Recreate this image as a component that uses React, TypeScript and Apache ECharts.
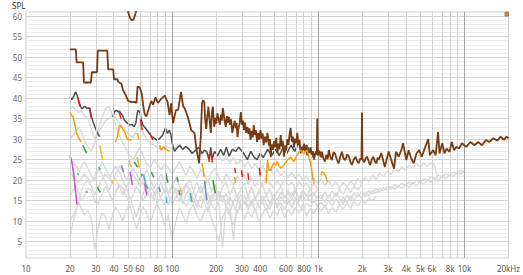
import React, { useEffect, useRef } from 'react';
import * as echarts from 'echarts';

const FONT = '"Noto Sans", "DejaVu Sans", sans-serif';

// ---- axis ticks ----
const xTickFreqs = [10, 20, 30, 40, 50, 60, 80, 100, 200, 300, 400, 600, 800, 1000, 2000, 3000, 4000, 5000, 6000, 8000, 10000, 20000];
const xTickLabels = ['10', '20', '30', '40', '50', '60', '80', '100', '200', '300', '400', '600', '800', '1k', '2k', '3k', '4k', '5k', '6k', '8k', '10k', '20kHz'];
const vGridFreqs = [20, 30, 40, 50, 60, 70, 80, 90, 100, 200, 300, 400, 500, 600, 700, 800, 900, 1000, 2000, 3000, 4000, 5000, 6000, 7000, 8000, 9000, 10000];
const decadeFreqs = [100, 1000, 10000];
const yMin = 1;
const yMax = 61;
const xMinFreq = 10;
const xMaxFreq = 20000;

// ---- brown (main) ----
const brownPts: [number, number][] = [
  [20, 51.9], [21.9, 51.9], [22.2, 48.7], [24.6, 48.7], [24.9, 43.8], [27.8, 43.8], [28.2, 46.3], [30.6, 46.3], [31, 51.6], [36, 51.6],
  [36.5, 47], [39.5, 47], [40, 44.6], [42.3, 44.6], [42.6, 44], [45, 43.5], [46, 42], [48.5, 40.5], [50, 39.3], [53, 39],
  [55.5, 39.1], [57, 38.8], [58, 42.8], [60, 42.6], [62, 41.1], [63.5, 38], [65, 36], [66.5, 35.5], [68, 36.5], [70, 38],
  [72, 39.3], [74, 38.4], [77, 40.2], [80, 38.8], [84, 39.8], [89, 40.6], [93, 39], [96, 35.9], [98.5, 38.7], [100, 36],
  [101.5, 33.9], [103, 35], [106, 37], [110, 37.2], [115, 41.5], [119, 38], [122, 37.5], [128, 35.4], [135, 32.2], [142, 31.5],
  [147, 27.3], [153, 24.1], [157, 30.5], [160, 38.7], [163, 39.5], [166, 39], [168, 35], [171, 32.5], [174, 35.5], [177, 37.9],
  [180, 35], [184, 31.5], [187, 36.5], [190, 37.9], [194, 33], [198, 35.2], [201, 33.8], [204, 36.3], [208, 35], [212, 33.5],
  [216, 36], [219, 34.5], [222, 37.6], [226, 35.8], [229, 34.2], [233, 33], [237, 35.6], [241, 34], [245, 35.4], [249, 33.5],
  [253, 34.8], [258, 31.5], [263, 33.2], [268, 34.5], [273, 32.6], [276, 33.9], [280, 30.5], [285, 32.8], [290, 34], [295, 36.6],
  [300, 33.5], [305, 34.6], [310, 32.2], [315, 34], [321, 31.5], [327, 33], [333, 31.2], [338, 32.6], [344, 29.8], [350, 32],
  [356, 30.4], [362, 33.4], [368, 31], [374, 32.2], [381, 29.3], [388, 31.5], [395, 29.9], [402, 32.2], [409, 30.1], [416, 31.4],
  [423, 28.5], [431, 30.6], [440, 29.2], [449, 31.5], [460, 28.4], [467, 30], [473, 25.6], [480, 28.7], [489, 27.4], [498, 29.5],
  [508, 28], [516, 30.3], [525, 26.6], [534, 28.9], [543, 27.5], [553, 31], [562, 28.2], [572, 29.6], [582, 25.7], [592, 28.4],
  [603, 27.2], [614, 30], [625, 28.6], [636, 31.2], [647, 32.7], [659, 29.4], [670, 30.6], [682, 28], [694, 30.1], [706, 29],
  [718, 31.5], [731, 28.6], [744, 29.8], [757, 26.5], [770, 28.1], [784, 27.3], [798, 28.9], [812, 27], [826, 28.2], [840, 26],
  [856, 27.6], [871, 26.6], [886, 28], [902, 26.2], [918, 27.1], [934, 25], [950, 26.4], [966, 27], [975, 26.2], [984, 35],
  [992, 26.4], [1000, 26], [1020, 27.2], [1040, 25.6], [1060, 26.9], [1085, 25.3], [1110, 24.5], [1135, 26.2], [1160, 25.1], [1180, 27.3],
  [1210, 25.6], [1240, 24.9], [1270, 26.8], [1300, 26.5], [1340, 25], [1380, 24.1], [1415, 25.8], [1450, 26.9], [1490, 25.2], [1530, 24.9],
  [1575, 26.3], [1620, 25.7], [1660, 24.4], [1700, 23.7], [1750, 25.1], [1800, 25.7], [1845, 24.6], [1890, 24.1], [1940, 25.3], [1975, 25],
  [1990, 36.5], [2005, 25.2], [2060, 24.3], [2110, 25.4], [2160, 25.7], [2210, 24.6], [2260, 23.7], [2320, 25], [2380, 25.7], [2440, 24.5],
  [2500, 24.1], [2550, 25.5], [2590, 24.9], [2700, 26.6], [2850, 23.2], [3030, 27], [3150, 25], [3300, 22.8], [3400, 26.9], [3550, 25.7],
  [3700, 27.3], [3800, 29], [4000, 24.9], [4150, 27.3], [4300, 25.5], [4500, 24.1], [4700, 26.5], [4900, 27.3], [5100, 25.7], [5400, 28.1],
  [5650, 30], [5800, 26.1], [6100, 27.3], [6350, 26.1], [6600, 31.7], [6750, 26.5], [7050, 29], [7300, 26.5], [7550, 27.7], [7900, 26.9],
  [8200, 29.3], [8500, 27.3], [8800, 28.1], [9200, 27.7], [9600, 29], [10300, 28.1], [11000, 29.3], [11700, 28.5], [12400, 29.3], [13200, 28.5],
  [14000, 29.8], [14800, 29.3], [15800, 30.2], [16800, 29.6], [17700, 30.6], [18600, 29.8], [19400, 30.6], [20000, 30.2],
];

// ---- brown (high, mostly above the plot) ----
const brownHighPts: [number, number][] = [
  [47, 66], [49, 63.5], [50, 61], [51.5, 59.5], [53, 59], [54.5, 59.2], [56, 60.5], [57, 61.5], [58, 64], [60, 67],
];
const brownEndMarker: [number, number][] = [[19500, 60.5]];

// ---- dark gray ----
const darkPts: [number, number | null][] = [
  [20, 40.3], [20.6, 39.6], [21.2, 40.5], [21.9, 41.5], [22.4, 40.6], [23, 39.2], [23.6, 38], [24.2, 37.4], [25.2, 38], [26.2, 37.5],
  [27.3, 37.6], [27.8, 36], [28.6, 34.5], [29.6, 33], [30.8, 31.5], [31.9, 30.6], [33, null], [39.2, 35.4], [40.5, 36.8], [41.7, 37],
  [42.8, 36.6], [43.6, 36.8], [44.5, 36.3], [45.7, 35.8], [47.2, 34.6], [49.5, 33.9], [51.5, 33.4], [53, 33.6], [55, 33], [56.5, 34],
  [57.5, 36], [58.3, 37], [59.3, 36.8], [60.5, 36.3], [61.5, 34.6], [62.9, 33.5], [64.5, 33], [66.5, 32.4], [68.5, 31.8], [70.5, 31.2],
  [72, 30.6], [74.5, 30.4], [77.8, 29.8], [81.5, 30], [86.2, 31], [90, 32.7], [93, 31.4], [95.7, 32.2], [98.2, 31], [100, 29],
  [104, 27], [108, 27.8], [113, 28.5], [118, 27.5], [124, 28.2], [130, 27.6], [137, 26.5], [145, 27.3], [152, 28], [160, 26.5],
  [166, 27.3], [172, 27], [176, 26], [179, 25], [184, 28], [187, 25], [195, 27], [205, 26], [215, 27.5], [225, 26],
  [235, 28], [245, 25.8], [258, 27.5], [272, 27], [285, 28], [302, 27], [315, 26], [327, 25], [345, 27], [365, 25.5],
  [381, 25], [400, 26.5], [420, 25.5], [450, 27.5], [480, 26], [510, 27.5], [540, 26], [575, 28], [610, 26.5], [650, 28.5],
  [690, 27], [730, 29], [780, 27], [830, 28.5], [880, 27], [930, 25.5], [980, 27], [1020, 26.5], [1060, 25.5],
];

// ---- orange ----
const orangePts: [number, number | null][] = [
  [20, 36.5], [20.5, 35.8], [21, 35.4], [21.6, 33.5], [22.2, 31.4], [22.8, 30.5], [23.3, 29.8], [24, 29.3], [24.6, null],
  [41, 29.3], [42.5, 30.8], [43.6, 33.4], [45.2, 32.8], [46.5, 32.2], [47.5, 31.6], [48.6, 30.5], [50, 29.8], [51, 29.9], [52.5, 29.6], [53.5, null],
  [57.5, 31.5], [58.3, 31], [59, 29.8], [59.8, null],
  [82, 28.5], [84, 27.3], [87, 28.1], [91, 27.5], [96, 27], [97, null],
  [160, 24.1], [163, 22.6], [166, 20.8], [168, null],
  [268, 20.8], [272, 19.2], [275, null],
  [395, 22], [400, 20.8], [405, null],
  [440, 19.2], [449, 24.9], [461, 22.4], [473, 22.4], [485, 23.5], [498, 24.1], [511, 23.6], [525, 24.5], [539, 23.6], [553, 22.9],
  [567, 23.2], [582, 23.7], [598, 24.3], [614, 24.9], [630, 25.2], [647, 25.7], [664, 25], [682, 24.5], [700, 25.5], [718, 26.1],
  [737, 26.8], [757, 27.3], [777, 26.8], [798, 26.5], [819, 27], [840, 27.3], [862, 25.6], [886, 24.1], [910, 21.5], [934, 19.2], [960, null],
  [1040, 21.2], [1060, 22], [1080, 22], [1100, 21.5], [1120, 21.2], [1140, 20.2], [1160, 19.6],
];

// ---- red ----
const redPts: [number, number | null][] = [
  [22.6, 40.2], [23, 39], [23.4, 38], [23.8, null], [27.2, 37.4], [27.6, 36.2], [28, 35.2], [28.4, null],
  [43.4, 36.8], [44, 35.8], [44.6, 35], [45, null], [60.5, 34.8], [61.5, 33.4], [62.5, 32.2], [63, null],
  [70, 31.5], [72, 30.6], [74, 29.8], [75, null], [176, 26.3], [178, 25], [180, 24.4], [181, null],
  [185, 27.2], [187, 25], [189, 24.3], [190, null], [268, 23], [272, 21.7], [276, null],
  [298, 22.4], [302, 20.8], [306, null], [330, 21.7], [334, 20], [338, null], [396, 23], [400, 21.2],
];

// ---- small coloured fragments ----
const magentaPts: [number, number | null][] = [
  [20, 26], [20.6, 24.5], [21.2, 21.5], [21.8, 17.5], [22.3, 14], [23, null],
  [51.5, 22], [52.5, 20.5], [53.5, 18.8], [55, null], [65, 19.2], [66, 17.6], [67, 16.3],
];
const greenPts: [number, number | null][] = [
  [24.5, 28.5], [25.2, 27.6], [26, 26.6], [27, null], [30.8, 18.3], [31.5, 17.6], [32.3, 17], [33, null],
  [55, 24.4], [56.5, 23.8], [58, 23.2], [59, null], [72, 22], [73.5, 21.2], [75, 20.7], [76, null],
  [90.5, 21.7], [92, 20.4], [93.5, 19.3], [95, null], [108, 20.8], [110, 19.6], [112, null], [190, 20], [194, 18.2], [198, 16.8],
];
const cyanPts: [number, number | null][] = [
  [22.5, 21.7], [23, 21.2], [23.5, null], [31.5, 23.2], [32.3, 22.5], [33, null],
  [60, 20], [62, 21.5], [64, 21], [66, 19], [68, 17.8], [69, null], [90, 15.8], [92, 14.4], [93, null], [133, 16.8], [136, 14.6],
];
const bluePts: [number, number | null][] = [
  [25.5, 17.1], [26.5, 17.1], [27, null], [45, 23.6], [46.5, 22], [47.5, null], [81, 18.3], [83, 17.1], [84, null],
  [111, 17.6], [113, 16.3], [114, null], [167, 19.8], [170, 17], [173, 15.1],
];
const yellowPts: [number, number | null][] = [
  [32, 28.5], [32.8, 26.6], [33.5, 24.9], [34, null], [38.5, 20], [39.5, 19.2], [40, null],
  [50.5, 25], [51.5, 24], [52.5, 23.2], [53, null], [57.5, 25.6], [58.5, 24.5], [59.5, 23], [60, null], [114, 18], [116, 16.3],
];

// ---- light gray measurements ----
const grayFreqLow = [
  20, 21, 22, 23, 24, 25, 26.5, 28, 29.5, 31,
  33, 35, 37, 39, 41, 43.5, 46, 48.5, 51, 54,
  57, 60, 63, 67, 71, 75, 79, 84, 89, 94,
  100, 106, 112, 118, 125, 132, 140, 148, 157, 166,
  176, 186, 197, 209, 221, 234, 248, 263, 278, 295,
  312, 330, 350, 370, 392, 415, 440, 466, 494, 523,
  554, 587, 622, 659, 698, 740, 784, 830, 880, 932,
  988,
];
const grayFreqHigh = [
  1047, 1109, 1175, 1245, 1319, 1397, 1480, 1568, 1661, 1760,
  1865, 1976, 2093, 2217, 2349, 2489, 2637, 2794, 2960, 3136,
  3322, 3520, 3729, 3951, 4186, 4435, 4699, 4978, 5274, 5588,
  5920, 6272, 6645, 7040, 7459, 7902, 8372, 8870, 9397, 9956,
];
const gray1 = [
  37.5, 37.8, 37.2, 36.5, 36.8, 35.8, 35, 32.5, 30, 31.5,
  33, 34.5, 35, 36, 35.2, 34, 33, 32, 31, 30.5,
  32, 33.5, 31.5, 30, 29, 28.5, 28, 27.5, 28.5, 28,
  27.5, 27.8, 28.6, 27.4, 28.3, 27.2, 26.8, 27.6, 26.2, 27,
  25.8, 26.6, 25.2, 26.1, 24.6, 25.8, 24.3, 25.4, 23.8, 24.9,
  23.2, 24.5, 22.8, 24, 22.4, 23.6, 21.8, 23, 21.4, 22.6,
  21.1, 22.2, 20.6, 21.9, 20.3, 21.5, 19.8, 21, 19.5, 20.6,
  19.2,
  20.2, 18.8, 19.9, 18.4, 19.6, 18.1, 19.4, 18.3, 19.8, 18.7,
  20.3, 19.2, 20.7, 19.6, 21.2, 20.1, 21.7, 20.8, 22.2, 21.3,
  22.8, 22, 23.2, 22.5, 23.6, 22.9, 24, 23.2, 24.2, 23.4,
  24.3, 23.5, 19.5,
];
const gray2 = [
  25, 24, 23.5, 22, 23.5, 24.5, 23, 21, 20, 22,
  24.5, 23, 21, 19, 21.5, 23.5, 22, 20, 21, 23,
  21.5, 19, 20.5, 22.5, 20, 18, 19.5, 21.5, 19.5, 17,
  18.5, 20.5, 18.6, 16.5, 18.8, 20.2, 17.4, 19.5, 16.8, 18.7,
  20.1, 17.2, 19, 15.6, 18.2, 19.6, 16.4, 18.5, 15.8, 17.9,
  19.2, 16, 18.3, 15.4, 17.5, 18.9, 16.2, 17.8, 15.1, 17.2,
  18.4, 15.7, 17.6, 16.1, 18, 15.2, 17.1, 16.4, 14.8, 16.9,
  15.5,
  16.2, 14.6, 16.5, 15.1, 16.8, 15.5, 14.2, 16.3, 15.2, 16.9,
  15.8, 17.2, 16.1, 17.5, 16.6, 17.9, 17, 18.2, 17.4, 18.5,
  17.7, 18.6, 18, 18.9, 18.2, 19.3, 18.6, 19.6, 19, 20.1,
  19.4, 20.4, 19.9, 20.9, 20.3, 21.3, 20.9, 21.8, 21.4, 22.3,
];
const gray3 = [
  16, 17.5, 18.5, 17, 15, 16, 18, 17.5, 15, 14,
  16.5, 18.5, 17, 15, 17, 19, 18, 16, 14.5, 16.5,
  18.5, 17, 15, 16.5, 18.5, 17, 14.5, 16, 18, 16.5,
  14, 15.8, 17.4, 15.1, 13.6, 15.9, 17.2, 14.8, 13.2, 15.6,
  16.8, 14.1, 12.6, 15.2, 16.5, 13.8, 12.2, 14.7, 16.2, 13.4,
  15.1, 12.8, 14.6, 16, 13.1, 14.9, 12.5, 14.2, 15.7, 13.3,
  14.5, 12.7, 14.8, 13.6, 15.2, 13.9, 12.4, 14.3, 13.5, 15,
  13.8,
  14.6, 13.2, 15.1, 13.7, 15.4, 14.3, 15.9, 14.6, 16.2, 15.1,
  16.7, 15.6, 17.1, 16.2, 17.6, 16.8, 18, 17.3, 18.4, 17.7,
  18.8, 18.3, 19.2, 18.6, 19.5, 19.1, 20, 19.5, 20.3, 19.9,
  20.8, 20.4, 21.2, 20.8, 21.5, 21.1, 21.9, 21.6, 22.4, 22,
];
const gray4 = [
  10, 11.5, 13, 14.5, 13, 11.5, 12.5, 10.5, 3, 8,
  12, 11, 8, 11.5, 13.5, 12, 10, 12.5, 14, 11,
  8, 11, 13.5, 12, 9.5, 12.5, 14.5, 12, 9, 11.5,
  5.5, 10, 13.2, 11.6, 9.4, 12.8, 14.1, 11.2, 9.8, 12.4,
  13.5, 10.6, 8.2, 5, 10.8, 12.9, 11.3, 9.1, 12.2, 13.6,
  10.4, 12.5, 11, 13.1, 9.6, 11.9, 13.2, 10.7, 12.6, 11.4,
  13.5, 10.9, 12.8, 11.5, 13.3, 12, 13.9, 11.2, 13, 11.8,
  13.6,
  12.4, 13.9, 11.8, 13.4, 12.2, 14, 12.9, 14.4, 13.1, 14.8,
  13.7, 15.2, 14.3, 15.6, 14.9, 16.1,
];
const gray5 = [
  6, 10, 12.5, 15, 17.5, 19, 20, 18.5, 16.5, 18,
  20, 21.5, 20.5, 22, 23.5, 22, 20, 18, 16, 13.5,
  11, 14, 16.5, 19, 17, 15, 17.5, 19.5, 17, 14,
  16, 18.2, 16.4, 14.2, 16.6, 18.1, 15.3, 13.4, 16.1, 14.5,
  12.3, 15.4, 17, 14.2, 3.5, 13.7, 15.9, 14, 11.6, 14.8,
  16.4, 13.5, 15.2, 12.6, 14.4, 16.2, 14.1, 12.9, 15.3, 13.9,
  16, 14.3, 15.6, 13.2, 15.8, 14.6, 16.3, 14.9, 16.7, 14.5,
  16.1,
  15.4, 17, 15.7, 17.4, 16, 17.8, 16.6, 18.2, 17, 18.5,
  17.6, 18.9,
];
const gray6 = [
  22, 21, 20, 19.5, 20.5, 21.5, 20.5, 19.5, 21, 23,
  21.5, 19.5, 17.5, 19.5, 20.5, 18.5, 16.5, 18, 20, 21.5,
  20, 18.5, 19.5, 17.5, 15.5, 16.5, 18, 15.5, 14, 16,
  19, 17, 14.7, 17.5, 19.2, 16.6, 14.4, 16.9, 18.6, 16.2,
  13.8, 16.6, 14.9, 17.3, 14.6, 16.8, 13.9, 5.4, 14.5, 16.5,
  14, 16.1, 13.7, 15.6, 17.2, 14.8, 16.4, 14.3, 16.6, 15,
  17.1, 15.4, 16.9, 15.1, 17.3, 15.7, 17.5, 16, 17.7, 16.3,
  17.9,
];
const gray7 = [
  30, 31, 32, 33, 31.5, 30, 28, 27, 29, 32,
  35, 37.5, 38, 36, 33.5, 31, 29, 27.5, 26, 25,
  26.5, 28, 26, 24, 23, 25, 24, 22.5, 24, 23,
  21.5, 23, 24.6, 22.8, 21.2, 23.5, 22.1, 20.4, 22.6, 21.3,
  19.5, 21.8, 22.9, 20.6, 19.2, 21.5, 20.1, 18.8, 20.9, 19.6,
  21.4, 19.1, 20.5, 18.4, 20.2, 18.9, 20.7, 19.3, 18.1, 19.8,
  18.5, 20.1, 18.7, 19.5, 17.9, 19.7, 18.3, 19.4, 17.8, 19.2,
  18,
];

const lg = (f: number) => Math.log10(f);
const pairData = (pts: [number, number | null][]) => pts.map(([f, v]) => [lg(f), v === null ? '-' : v]);
const gridData = (vals: number[]) => {
  const freqs = [...grayFreqLow, ...grayFreqHigh];
  return vals.map((v, i) => [lg(freqs[i]), v]);
};

const lineSeries = (name: string, data: any[], color: string, width: number, z: number) => ({
  type: 'line',
  name,
  data,
  z,
  showSymbol: false,
  symbol: 'none',
  silent: true,
  connectNulls: false,
  clip: true,
  lineStyle: { color, width },
  itemStyle: { color },
});

const labelFor = (v: number) => {
  for (let i = 0; i < xTickFreqs.length; i++) {
    if (Math.abs(lg(xTickFreqs[i]) - v) < 1e-6) return xTickLabels[i];
  }
  return '';
};

const GRAY = '#d9d9d9';

const option: any = {
  animation: false,
  backgroundColor: '#ffffff',
  title: {
    text: 'SPL',
    left: 12,
    top: 1,
    padding: 0,
    textStyle: { fontSize: 8, color: '#333', fontWeight: 'normal', fontFamily: FONT },
  },
  grid: {
    left: 26,
    top: 12,
    width: 484,
    height: 246,
    show: true,
    borderColor: '#c8c8c8',
    borderWidth: 1,
    backgroundColor: 'transparent',
  },
  xAxis: {
    type: 'value',
    min: lg(xMinFreq),
    max: lg(xMaxFreq),
    axisLine: { show: false },
    axisTick: { show: false },
    splitLine: { show: false },
    axisLabel: {
      customValues: xTickFreqs.map(lg),
      formatter: (v: number) => labelFor(v),
      fontSize: 8,
      color: '#555',
      margin: 6,
      fontFamily: FONT,
      showMinLabel: true,
      showMaxLabel: true,
    },
  },
  yAxis: {
    type: 'value',
    min: yMin,
    max: yMax,
    interval: 1,
    axisLine: { show: false },
    axisTick: { show: false },
    splitLine: {
      show: true,
      lineStyle: { color: ['#ececec', '#ececec', '#ececec', '#ececec', '#d3d3d3'], width: 1 },
    },
    axisLabel: {
      formatter: (v: number) => (v % 5 === 0 && v <= 60 ? String(v) : ''),
      fontSize: 8,
      color: '#666',
      margin: 4,
      fontFamily: FONT,
    },
  },
  series: [
    {
      type: 'line',
      data: [[lg(xMinFreq), -100]],
      z: 1,
      silent: true,
      symbol: 'none',
      lineStyle: { width: 0 },
      markLine: {
        silent: true,
        symbol: ['none', 'none'],
        animation: false,
        label: { show: false },
        data: vGridFreqs.map((f) => ({
          xAxis: lg(f),
          lineStyle: { color: decadeFreqs.includes(f) ? '#a3a3a3' : '#d2d2d2', width: 1, type: 'solid' },
        })),
      },
    },
    lineSeries('g7', gridData(gray7), GRAY, 1.4, 2),
    lineSeries('g6', gridData(gray6), GRAY, 1.4, 2),
    lineSeries('g5', gridData(gray5), GRAY, 1.4, 2),
    lineSeries('g4', gridData(gray4), GRAY, 1.4, 2),
    lineSeries('g3', gridData(gray3), GRAY, 1.4, 2),
    lineSeries('g2', gridData(gray2), GRAY, 1.4, 2),
    lineSeries('g1', gridData(gray1), GRAY, 1.4, 2),
    lineSeries('magenta', pairData(magentaPts), '#d24fd2', 1.6, 3),
    lineSeries('green', pairData(greenPts), '#3c9b3c', 1.6, 3),
    lineSeries('cyan', pairData(cyanPts), '#3fb5bf', 1.6, 3),
    lineSeries('blue', pairData(bluePts), '#7290c6', 1.6, 3),
    lineSeries('yellow', pairData(yellowPts), '#e6c02c', 1.6, 3),
    lineSeries('dark', pairData(darkPts), '#4d4d4d', 1.5, 4),
    lineSeries('brown', pairData(brownPts), '#773c12', 1.8, 5),
    lineSeries('brownHigh', pairData(brownHighPts), '#773c12', 1.8, 5),
    lineSeries('orange', pairData(orangePts), '#f0a20e', 1.5, 6),
    lineSeries('red', pairData(redPts), '#e0201c', 1.5, 7),
    {
      type: 'scatter',
      data: pairData(brownEndMarker),
      symbol: 'rect',
      symbolSize: 4,
      z: 8,
      silent: true,
      itemStyle: { color: '#c2712e', borderColor: '#773c12', borderWidth: 0.5 },
    },
  ],
};

export default function App() {
  const ref = useRef<HTMLDivElement>(null);
  useEffect(() => {
    if (!ref.current) return;
    const chart = echarts.init(ref.current, null, { renderer: 'svg' });
    chart.setOption(option);
    return () => chart.dispose();
  }, []);
  return (
    <div
      ref={ref}
      style={{ position: 'fixed', left: 0, top: 0, width: 523, height: 275, background: '#fff' }}
    />
  );
}
